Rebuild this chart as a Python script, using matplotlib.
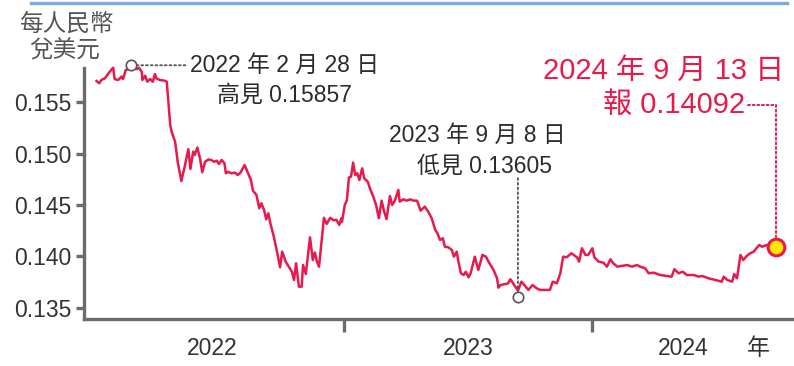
import pandas as pd
import matplotlib.pyplot as plt
import matplotlib.dates as mdates
from matplotlib.lines import Line2D

plt.rcParams['font.family'] = ['Liberation Sans', 'Noto Sans CJK TC', 'DejaVu Sans']

# CNY -> USD rate
dates = [
    '2022-01-10', '2022-01-14', '2022-01-17', '2022-01-22', '2022-01-29', '2022-02-03',
    '2022-02-05', '2022-02-10', '2022-02-15', '2022-02-17', '2022-02-21', '2022-02-24',
    '2022-02-28', '2022-03-09', '2022-03-12', '2022-03-16', '2022-03-17', '2022-03-21',
    '2022-03-24', '2022-03-28', '2022-04-01', '2022-04-04', '2022-04-06', '2022-04-11',
    '2022-04-18', '2022-04-21', '2022-04-26', '2022-04-28', '2022-05-03', '2022-05-07',
    '2022-05-12', '2022-05-17', '2022-05-22', '2022-05-25', '2022-05-29', '2022-05-31',
    '2022-06-04', '2022-06-08', '2022-06-11', '2022-06-15', '2022-06-20', '2022-06-24',
    '2022-06-28', '2022-07-02', '2022-07-05', '2022-07-09', '2022-07-13', '2022-07-15',
    '2022-07-18', '2022-07-23', '2022-07-28', '2022-08-01', '2022-08-05', '2022-08-11',
    '2022-08-16', '2022-08-20', '2022-08-23', '2022-08-28', '2022-09-01', '2022-09-04',
    '2022-09-08', '2022-09-11', '2022-09-14', '2022-09-17', '2022-09-22', '2022-09-27',
    '2022-10-01', '2022-10-04', '2022-10-09', '2022-10-14', '2022-10-18', '2022-10-21',
    '2022-10-24', '2022-10-28', '2022-11-01', '2022-11-03', '2022-11-07', '2022-11-13',
    '2022-11-17', '2022-11-20', '2022-11-23', '2022-11-26', '2022-12-03', '2022-12-07',
    '2022-12-12', '2022-12-17', '2022-12-21', '2022-12-25', '2022-12-28', '2022-12-29',
    '2023-01-02', '2023-01-05', '2023-01-08', '2023-01-11', '2023-01-14', '2023-01-17',
    '2023-01-20', '2023-01-23', '2023-01-27', '2023-01-30', '2023-02-04', '2023-02-08',
    '2023-02-12', '2023-02-16', '2023-02-20', '2023-02-24', '2023-02-27', '2023-03-03',
    '2023-03-08', '2023-03-11', '2023-03-15', '2023-03-20', '2023-03-22', '2023-03-27',
    '2023-04-01', '2023-04-06', '2023-04-11', '2023-04-16', '2023-04-21', '2023-04-27',
    '2023-05-02', '2023-05-07', '2023-05-12', '2023-05-15', '2023-05-19', '2023-05-23',
    '2023-05-26', '2023-05-31', '2023-06-05', '2023-06-08', '2023-06-12', '2023-06-14',
    '2023-06-18', '2023-06-22', '2023-06-25', '2023-06-29', '2023-07-02', '2023-07-08',
    '2023-07-13', '2023-07-19', '2023-07-24', '2023-07-29', '2023-08-04', '2023-08-09',
    '2023-08-11', '2023-08-14', '2023-08-21', '2023-08-25', '2023-08-28', '2023-09-01',
    '2023-09-08', '2023-09-13', '2023-09-16', '2023-09-23', '2023-09-29', '2023-10-05',
    '2023-10-10', '2023-10-24', '2023-10-28', '2023-11-03', '2023-11-08', '2023-11-12',
    '2023-11-17', '2023-11-24', '2023-12-02', '2023-12-05', '2023-12-09', '2023-12-14',
    '2023-12-18', '2023-12-24', '2023-12-27', '2024-01-02', '2024-01-09', '2024-01-14',
    '2024-01-19', '2024-01-23', '2024-01-29', '2024-02-04', '2024-02-12', '2024-02-19',
    '2024-02-26', '2024-03-02', '2024-03-09', '2024-03-14', '2024-03-21', '2024-03-31',
    '2024-04-09', '2024-04-16', '2024-04-20', '2024-04-26', '2024-05-02', '2024-05-08',
    '2024-05-18', '2024-05-25', '2024-05-30', '2024-06-08', '2024-06-18', '2024-06-27',
    '2024-06-30', '2024-07-05', '2024-07-12', '2024-07-15', '2024-07-19', '2024-07-24',
    '2024-07-28', '2024-08-02', '2024-08-07', '2024-08-12', '2024-08-16', '2024-08-20',
    '2024-08-24', '2024-08-31', '2024-09-13',
]
rates = [
    0.15704, 0.15682, 0.15714, 0.15730, 0.15794, 0.15833,
    0.15723, 0.15714, 0.15746, 0.15723, 0.15811, 0.15818,
    0.15840, 0.15820, 0.15833, 0.15794, 0.15714, 0.15755,
    0.15697, 0.15723, 0.15697, 0.15772, 0.15730, 0.15714,
    0.15707, 0.15697, 0.15277, 0.15212, 0.15115, 0.14908,
    0.14733, 0.14879, 0.15042, 0.14850, 0.15018, 0.14985,
    0.15058, 0.14947, 0.14818, 0.14920, 0.14942, 0.14937,
    0.14920, 0.14930, 0.14898, 0.14937, 0.14905, 0.14808,
    0.14823, 0.14808, 0.14814, 0.14791, 0.14814, 0.14888,
    0.14808, 0.14743, 0.14639, 0.14597, 0.14468, 0.14517,
    0.14451, 0.14361, 0.14419, 0.14322, 0.14192, 0.14031,
    0.13895, 0.14047, 0.13950, 0.13895, 0.13852, 0.13772,
    0.13934, 0.13707, 0.13707, 0.13917, 0.13830, 0.14186,
    0.13966, 0.14039, 0.13950, 0.13901, 0.14376, 0.14316,
    0.14376, 0.14351, 0.14357, 0.14306, 0.14371, 0.14338,
    0.14500, 0.14546, 0.14767, 0.14775, 0.14911, 0.14791,
    0.14808, 0.14743, 0.14856, 0.14759, 0.14726, 0.14646,
    0.14581, 0.14500, 0.14371, 0.14542, 0.14451, 0.14364,
    0.14587, 0.14500, 0.14542, 0.14646, 0.14532, 0.14555,
    0.14542, 0.14555, 0.14542, 0.14542, 0.14445, 0.14484,
    0.14435, 0.14371, 0.14260, 0.14228, 0.14160, 0.14177,
    0.14095, 0.14089, 0.14063, 0.13998, 0.14047, 0.13966,
    0.13837, 0.13820, 0.13852, 0.13798, 0.13837, 0.13998,
    0.13869, 0.14015, 0.13998, 0.13934, 0.13869, 0.13788,
    0.13697, 0.13723, 0.13733, 0.13740, 0.13779, 0.13740,
    0.13668, 0.13755, 0.13733, 0.13675, 0.13723, 0.13691,
    0.13675, 0.13675, 0.13755, 0.13740, 0.13837, 0.13998,
    0.13992, 0.14031, 0.13992, 0.13950, 0.14080, 0.14015,
    0.14015, 0.14080, 0.13992, 0.13950, 0.13940, 0.13901,
    0.13973, 0.13934, 0.13901, 0.13908, 0.13917, 0.13901,
    0.13917, 0.13901, 0.13885, 0.13837, 0.13843, 0.13820,
    0.13811, 0.13804, 0.13876, 0.13837, 0.13852, 0.13820,
    0.13820, 0.13804, 0.13811, 0.13788, 0.13772, 0.13755,
    0.13804, 0.13772, 0.13755, 0.13830, 0.13788, 0.14015,
    0.13966, 0.14005, 0.14031, 0.14047, 0.14080, 0.14112,
    0.14095, 0.14112, 0.14092,
]

high_date, high_val = '2022-02-28', 0.15857
low_date, low_val = '2023-09-08', 0.13605
last_date, last_val = '2024-09-13', 0.14092

yticks = [0.135, 0.140, 0.145, 0.150, 0.155]
year_sep = ['2023-01-01', '2023-12-24']
year_pos = ['2022-06-26', '2023-06-29', '2024-05-02', '2024-08-18']
year_labels = ['2022', '2023', '2024', '年']

RED = '#e8194b'
AXC = '#6b6b6b'
TXT = '#2b2b2b'

x = pd.to_datetime(dates)
hd, ld, fd = pd.Timestamp(high_date), pd.Timestamp(low_date), pd.Timestamp(last_date)

fig = plt.figure(figsize=(7.94, 3.66), dpi=100)
ax = fig.add_axes([84/794, 47/366, 710/794, 259/366])

ax.plot(x, rates, color=RED, lw=1.8, zorder=3)

ax.set_xlim(pd.Timestamp('2021-12-23'), pd.Timestamp('2024-10-09'))
ax.set_ylim(0.13393, 0.15908)

for s in ['top', 'right']:
    ax.spines[s].set_visible(False)
for s in ['left', 'bottom']:
    ax.spines[s].set_color(AXC)
    ax.spines[s].set_linewidth(2.4)
ax.spines['left'].set_bounds(0.13393, 0.1583)

ax.set_yticks(yticks)
ax.set_yticklabels([f'{v:.3f}' for v in yticks])
ax.tick_params(axis='y', length=6, width=2.4, color=AXC, labelcolor='#333333',
               labelsize=16.5, pad=3)

ax.set_xticks(pd.to_datetime(year_sep))
ax.set_xticklabels([])
ax.set_xticks(pd.to_datetime(year_pos), minor=True)
ax.set_xticklabels(year_labels, minor=True)
ax.tick_params(axis='x', which='major', length=9, width=2.4, color=AXC)
ax.tick_params(axis='x', which='minor', length=0, labelsize=16.5,
               labelcolor='#333333', pad=13)

# high
ax.plot(hd, high_val, 'o', ms=7.5, mfc='white', mec='#555555', mew=1.2,
        zorder=5, clip_on=False)
ax.annotate('2022 年 2 月 28 日', xy=(hd, high_val), xytext=(59, 0),
            textcoords='offset pixels', ha='left', va='center', fontsize=16.5,
            color=TXT,
            arrowprops=dict(arrowstyle='-', ls=(0, (1, 1.6)), color='#555555',
                            lw=1.3, shrinkA=1, shrinkB=4.5))
ax.annotate('高見 0.15857', xy=(hd, high_val), xytext=(154, -30),
            textcoords='offset pixels', ha='center', va='center',
            fontsize=16.5, color=TXT)

# low
ax.plot(ld, low_val, 'o', ms=7.5, mfc='white', mec='#555555', mew=1.2,
        zorder=5, clip_on=False)
ax.annotate('', xy=(ld, low_val), xytext=(0, 119), textcoords='offset pixels',
            arrowprops=dict(arrowstyle='-', ls=(0, (1, 1.6)), color='#555555',
                            lw=1.3, shrinkA=0, shrinkB=4.5))
ax.annotate('2023 年 9 月 8 日', xy=(ld, low_val), xytext=(-41, 162),
            textcoords='offset pixels', ha='center', va='center',
            fontsize=16.5, color=TXT)
ax.annotate('低見 0.13605', xy=(ld, low_val), xytext=(-33, 131),
            textcoords='offset pixels', ha='center', va='center',
            fontsize=16.5, color=TXT)

# latest
ax.plot(fd, last_val, 'o', ms=12, mfc='#ffe600', mec=RED, mew=2.2,
        zorder=6, clip_on=False)
ax.annotate('', xy=(fd, last_val), xytext=(-28, 142), textcoords='offset pixels',
            arrowprops=dict(arrowstyle='-', ls=(0, (1, 1.4)), color=RED, lw=1.4,
                            shrinkA=0, shrinkB=7,
                            connectionstyle='angle,angleA=0,angleB=90,rad=0'))
ax.annotate('2024 年 9 月 13 日', xy=(fd, last_val), xytext=(8, 176),
            textcoords='offset pixels', ha='right', va='center',
            fontsize=21, color=RED)
ax.annotate('報 0.14092', xy=(fd, last_val), xytext=(-31, 142),
            textcoords='offset pixels', ha='right', va='center',
            fontsize=21, color=RED)

# unit label
fig.text(66/794, 1 - 24/366, '每人民幣', ha='center', va='center',
         fontsize=17, color='#555555')
fig.text(65/794, 1 - 51/366, '兌美元', ha='center', va='center',
         fontsize=17, color='#555555')

# top rule
fig.add_artist(Line2D([31/794, 787/794], [1 - 3/366, 1 - 3/366],
                      color='#7aaddc', lw=2.4))

fig.savefig('out.png', dpi=100)
